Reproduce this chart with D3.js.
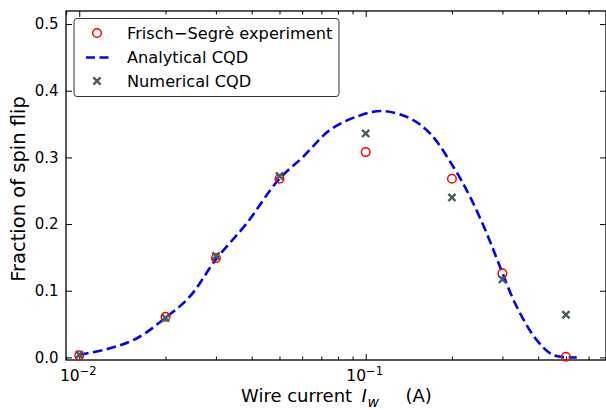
<!DOCTYPE html>
<html>
<head>
<meta charset="utf-8">
<script src="https://cdn.jsdelivr.net/npm/d3@7"></script>
<style>
  html, body { margin: 0; padding: 0; background: #fff; }
  svg { display: block; font-family: "DejaVu Sans", sans-serif; }
</style>
</head>
<body>
<div id="chart"></div>
<script>
// wire currents (A) for the measured / simulated points
var currents = [0.01, 0.02, 0.03, 0.05, 0.1, 0.2, 0.3, 0.5];
var frischSegre = [0.003, 0.061, 0.149, 0.268, 0.308, 0.268, 0.126, 0.001];
var numericalCQD = [0.004, 0.059, 0.152, 0.272, 0.336, 0.240, 0.117, 0.064];

// analytical CQD curve
var curveX = [0.01, 0.0128, 0.0159, 0.0199, 0.0243, 0.0300, 0.0384, 0.0495, 0.0605, 0.0750,
              0.0955, 0.1152, 0.1428, 0.1677, 0.2022, 0.2313, 0.2646, 0.2943, 0.3367, 0.3955,
              0.4519, 0.5452];
var curveY = [0.004, 0.0137, 0.0287, 0.0587, 0.091, 0.147, 0.201, 0.266, 0.301, 0.341,
              0.363, 0.3695, 0.3586, 0.336, 0.286, 0.241, 0.186, 0.136, 0.076, 0.026,
              0.0036, 0.0];

var yTicks = [0.0, 0.1, 0.2, 0.3, 0.4, 0.5];
var xMajor = [0.01, 0.1];
var xMinor = [0.009, 0.02, 0.03, 0.04, 0.05, 0.06, 0.07, 0.08, 0.09, 0.2, 0.3, 0.4, 0.5, 0.6];

var legendItems = ['Frisch\u2212Segrè experiment', 'Analytical CQD', 'Numerical CQD'];

var W = 606, H = 410;
var m = {left: 66, right: 0, top: 11, bottom: 50};

var svg = d3.select('#chart').append('svg')
  .attr('width', W).attr('height', H);

var x = d3.scaleLog().domain([0.00899, 0.690]).range([m.left, W - m.right]);
var y = d3.scaleLinear().domain([-0.0039, 0.5196]).range([H - m.bottom, m.top]);

var plotW = W - m.left - m.right, plotH = H - m.top - m.bottom;

////////////////////////////////////////////////////////////////////////////
// axes, ticks pointing inward on all four sides
function tickGroup(axis, tx, ty) {
  var g = svg.append('g').attr('transform', 'translate(' + tx + ',' + ty + ')').call(axis);
  g.select('.domain').remove();
  g.selectAll('.tick line').attr('stroke', '#000').attr('stroke-width', 1);
  g.selectAll('.tick text').remove();
  return g;
}

var yb = H - m.bottom;
tickGroup(d3.axisBottom(x).tickValues(xMajor).tickSize(-6).tickFormat(''), 0, yb);
tickGroup(d3.axisBottom(x).tickValues(xMinor).tickSize(-3.5).tickFormat(''), 0, yb);
tickGroup(d3.axisTop(x).tickValues(xMajor).tickSize(-6).tickFormat(''), 0, m.top);
tickGroup(d3.axisTop(x).tickValues(xMinor).tickSize(-3.5).tickFormat(''), 0, m.top);
tickGroup(d3.axisLeft(y).tickValues(yTicks).tickSize(-6).tickFormat(''), m.left, 0);
tickGroup(d3.axisRight(y).tickValues(yTicks).tickSize(-6).tickFormat(''), W - m.right, 0);

svg.append('rect')
  .attr('x', m.left).attr('y', m.top)
  .attr('width', plotW).attr('height', plotH)
  .attr('fill', 'none').attr('stroke', '#000').attr('stroke-width', 1.3);

// tick labels
svg.selectAll('.ylab').data(yTicks).enter().append('text')
  .attr('x', m.left - 7.5)
  .attr('y', function (d) { return y(d); })
  .attr('dy', '0.36em')
  .attr('text-anchor', 'end')
  .attr('font-size', 15)
  .text(function (d) { return d.toFixed(1); });

var xl = svg.selectAll('.xlab').data(xMajor).enter().append('text')
  .attr('x', function (d) { return x(d) - 1; })
  .attr('y', yb + 21)
  .attr('text-anchor', 'middle')
  .attr('font-size', 15.5);
xl.append('tspan').text('10');
xl.append('tspan').attr('dy', -6.5).attr('font-size', 11.5)
  .text(function (d) { return '\u2212' + Math.round(-Math.log10(d)); });

// axis titles
var cx = m.left + plotW / 2;
var tb = 402;
svg.append('text').attr('x', cx - 95).attr('y', tb).attr('font-size', 18)
  .text('Wire current');
svg.append('text').attr('x', cx + 25.5).attr('y', tb).attr('font-size', 18)
  .attr('font-style', 'italic').text('I');
svg.append('text').attr('x', cx + 31.5).attr('y', tb + 4.5).attr('font-size', 14)
  .attr('font-style', 'italic').text('w');
svg.append('text').attr('x', cx + 69.5).attr('y', tb).attr('font-size', 18)
  .text('(A)');

svg.append('text')
  .attr('transform', 'translate(25,189) rotate(-90)')
  .attr('text-anchor', 'middle').attr('font-size', 19.5)
  .text('Fraction of spin flip');

////////////////////////////////////////////////////////////////////////////
// analytical curve
var line = d3.line()
  .x(function (d) { return x(d[0]); })
  .y(function (d) { return y(d[1]); })
  .curve(d3.curveCatmullRom.alpha(0.5));

svg.append('path')
  .datum(d3.zip(curveX, curveY))
  .attr('d', line)
  .attr('fill', 'none')
  .attr('stroke', '#0000ff')
  .attr('stroke-width', 2.6)
  .attr('stroke-dasharray', '9.5,4.5');

// markers
var redC = '#ff0000', grey = '#465e5e';

function crossPath(px, py, r) {
  return 'M' + (px - r) + ',' + (py - r) + 'L' + (px + r) + ',' + (py + r) +
         'M' + (px - r) + ',' + (py + r) + 'L' + (px + r) + ',' + (py - r);
}

svg.selectAll('.fs').data(d3.zip(currents, frischSegre)).enter().append('circle')
  .attr('cx', function (d) { return x(d[0]); })
  .attr('cy', function (d) { return y(d[1]); })
  .attr('r', 4.3)
  .attr('fill', 'none').attr('stroke', redC).attr('stroke-width', 1.5);

svg.selectAll('.nc').data(d3.zip(currents, numericalCQD)).enter().append('path')
  .attr('d', function (d) { return crossPath(x(d[0]), y(d[1]), 3.6); })
  .attr('stroke', grey).attr('stroke-width', 2.4).attr('fill', 'none');

////////////////////////////////////////////////////////////////////////////
// legend
var lg = svg.append('g');
lg.append('rect')
  .attr('x', 74).attr('y', 18.5).attr('width', 265).attr('height', 78)
  .attr('rx', 3).attr('fill', '#fff').attr('fill-opacity', 0.8)
  .attr('stroke', '#333').attr('stroke-width', 1);

var rowY = [33, 57.5, 81];
lg.append('circle').attr('cx', 97).attr('cy', rowY[0]).attr('r', 4.3)
  .attr('fill', 'none').attr('stroke', redC).attr('stroke-width', 1.5);
lg.append('line').attr('x1', 86).attr('x2', 109).attr('y1', rowY[1]).attr('y2', rowY[1])
  .attr('stroke', '#0000ff').attr('stroke-width', 2.6).attr('stroke-dasharray', '9,4.5');
lg.append('path').attr('d', crossPath(97, rowY[2], 3.6))
  .attr('stroke', grey).attr('stroke-width', 2.4);

lg.selectAll('.lt').data(legendItems).enter().append('text')
  .attr('x', 127)
  .attr('y', function (d, i) { return rowY[i]; })
  .attr('dy', '0.36em')
  .attr('font-size', 16.2)
  .text(function (d) { return d; });
</script>
</body>
</html>
